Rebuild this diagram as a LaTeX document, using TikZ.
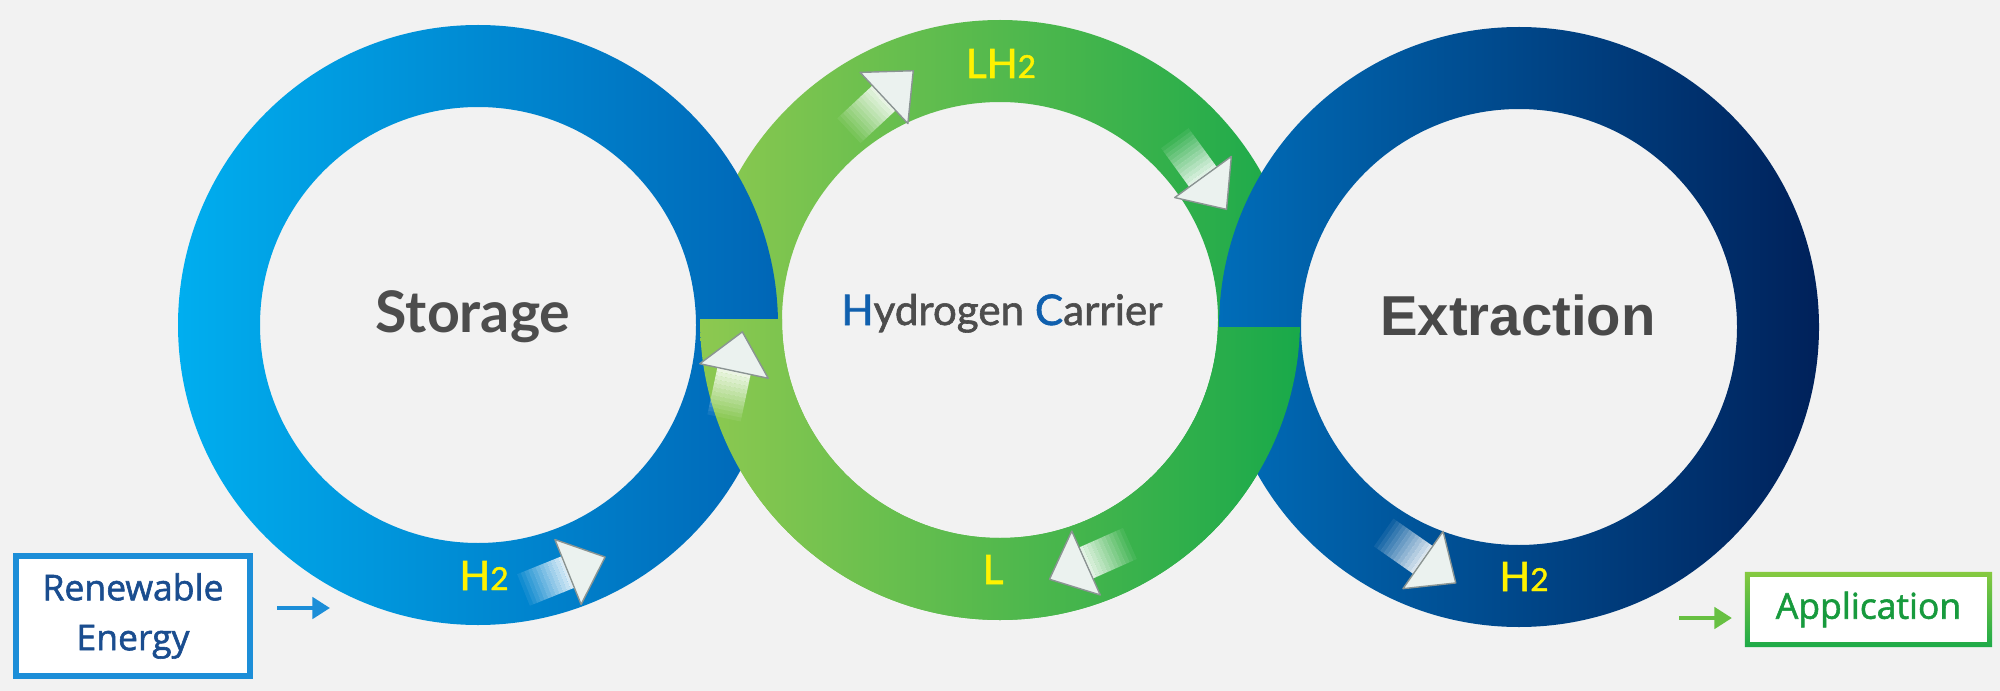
\documentclass[tikz,border=0pt]{standalone}
\usepackage{fontspec}
\setmainfont{Lato}
\newfontfamily\boxfont[FakeBold=1.6]{Open Sans}
\newfontfamily\semifont[FakeBold=1.4]{Lato}
\newfontfamily\extfont{Liberation Sans}
\usetikzlibrary{arrows.meta}
\definecolor{bgc}{HTML}{F2F2F2}
\definecolor{leftA}{HTML}{00AEEF}
\definecolor{leftB}{HTML}{0066B6}
\definecolor{midA}{HTML}{8DC950}
\definecolor{midB}{HTML}{19A94A}
\definecolor{rightA}{HTML}{006DB9}
\definecolor{rightB}{HTML}{00215A}
\definecolor{titlegray}{HTML}{4D4D4D}
\definecolor{hcblue}{HTML}{1060AE}
\definecolor{lblyellow}{HTML}{FFF200}
\definecolor{renewblue}{HTML}{1C8ED8}
\definecolor{renewtext}{HTML}{1A4D8F}
\definecolor{appA}{HTML}{86C940}
\definecolor{appB}{HTML}{1DAA48}
\definecolor{apptext}{HTML}{179A3D}
\definecolor{arrowhead}{HTML}{EBF2EF}
\definecolor{arrowedge}{HTML}{8A9492}
\newcommand\FlowArrow[3]{%
  \begin{scope}[shift={(#1,#2)}, rotate=#3]
    \foreach \k in {0,...,12} {
      \fill[white, opacity=0.07*\k] ({-52+4*\k},-17) rectangle ({-48+4*\k+0.01},17);
    }
    \fill[white, opacity=0.9] (-1,-17) rectangle (1,17);
    \fill[arrowhead, draw=arrowedge, line width=0.4pt, line join=round] (0,-35) -- (40,0) -- (0,35) -- cycle;
  \end{scope}}
\begin{document}
\begin{tikzpicture}[x=0.01cm, y=-0.01cm,
  ringlbl/.style={anchor=base, inner sep=0, text=lblyellow, font=\semifont\fontsize{11.5}{12}\selectfont},
  title/.style={anchor=base, inner sep=0, text=titlegray}]
\useasboundingbox (0,0) rectangle (2000,691);
\fill[bgc] (0,0) rectangle (2000,691);
\coordinate (cL) at (478,325);
\coordinate (cM) at (1000,320);
\coordinate (cR) at (1519,327);
% middle ring (upper part goes under the neighbours)
\shade[even odd rule, left color=midA, right color=midB] (cM) circle (300) (cM) circle (218);
\shade[even odd rule, left color=leftA, right color=leftB] (cL) circle (300) (cL) circle (218);
\shade[even odd rule, left color=rightA, right color=rightB] (cR) circle (300) (cR) circle (218);
\begin{scope}
  \clip (640,319) -- (1000,319) -- (1000,327) -- (1360,327) -- (1360,691) -- (640,691) -- cycle;
  \shade[even odd rule, left color=midA, right color=midB] (cM) circle (300) (cM) circle (218);
\end{scope}
% flow arrows
\FlowArrow{568}{572}{22}
\FlowArrow{734}{371}{78}
\FlowArrow{884}{98}{43}
\FlowArrow{1203}{177}{-54}
\FlowArrow{1086}{563}{204}
\FlowArrow{1423}{560}{-35}
% ring labels
\node[ringlbl] (h2a) at (484,590) {H{\fontsize{9}{9}\selectfont 2}};
\node[ringlbl] (lh2) at (1001,78) {LH{\fontsize{9}{9}\selectfont 2}};
\node[ringlbl] (lbl) at (993,584) {L};
\node[ringlbl] (h2b) at (1524,591) {H{\fontsize{9}{9}\selectfont 2}};
% titles
\node[title, font=\fontsize{16.3}{18}\selectfont\bfseries] (storage) at (473,332) {Storage};
\node[title, font=\semifont\fontsize{12}{14}\selectfont] (carrier) at (1002,325) {\textcolor{hcblue}{H}ydrogen \textcolor{hcblue}{C}arrier};
\node[title, font=\extfont\fontsize{16}{18}\selectfont\bfseries, text=titlegray!95!black] (extraction) at (1518,335) {Extraction};
% boxes
\node[draw=renewblue, line width=1.7pt, fill=white, minimum width=2.34cm, minimum height=1.2cm,
      align=center, inner sep=0, text=renewtext, font=\boxfont\fontsize{10.1}{14.2}\selectfont] (renew) at (133,616) {Renewable\\Energy};
\node[fill=white, minimum width=2.47cm, minimum height=0.75cm, inner sep=0, outer sep=0,
      text=apptext, font=\boxfont\fontsize{10.1}{12}\selectfont] (app) at (1868.5,609.5) {Application};
\shade[even odd rule, top color=appA, bottom color=appB]
  (app.north west) rectangle (app.south east)
  ([shift={(5,5)}]app.north west) rectangle ([shift={(-5,-5)}]app.south east);
% small arrows
\coordinate (rEnd) at (330,608);
\draw[renewblue, line width=1.2pt, -{Triangle[length=5pt,width=6pt]}] (renew.east) ++(24,-8) -- (rEnd);
\coordinate (aStart) at (1679,618);
\draw[appA!70!appB, line width=1.2pt, -{Triangle[length=5pt,width=6pt]}] (aStart) -- ([shift={(-13,8.5)}]app.west);
\end{tikzpicture}
\end{document}
